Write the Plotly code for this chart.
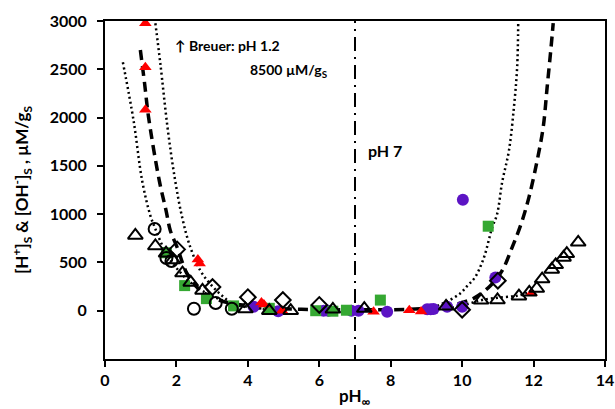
import plotly.graph_objects as go

# ---- measured surface concentrations vs. pH ----
tri_open_x = [0.85, 1.41, 1.71, 1.90, 2.17, 2.40, 2.73, 3.93, 4.60, 5.20, 6.38, 7.26,
              9.55, 10.53, 10.99, 11.59, 11.88, 12.09, 12.24, 12.51, 12.62, 12.84, 12.93, 13.25]
tri_open_y = [780, 670, 595, 525, 390, 293, 210, 17, 0, 0, 15, 22,
              45, 108, 111, 150, 190, 230, 328, 427, 475, 552, 590, 708]

circ_open_x = [1.39, 1.72, 1.86, 2.49, 3.10, 3.55]
circ_open_y = [847, 545, 515, 20, 80, 20]

diam_open_x = [2.02, 3.01, 4.00, 4.98, 6.00, 10.00, 11.00]
diam_open_y = [635, 245, 140, 111, 60, 10, 311]

red_tri_x = [1.13, 1.13, 1.13, 2.60, 2.65, 4.38, 4.45, 4.96, 7.52, 8.52, 8.85, 11.94]
red_tri_y = [2977, 2521, 2080, 530, 490, 85, 65, 0, -10, 5, -8, 180]

green_sq_x = [1.72, 2.23, 2.84, 3.60, 4.60, 5.90, 6.38, 6.76, 7.71, 10.73]
green_sq_y = [600, 260, 125, 50, 25, 0, -5, 5, 110, 875]

purple_x = [4.16, 4.85, 6.12, 6.25, 6.90, 7.10, 7.90, 9.02, 9.12, 9.20, 9.58, 10.00, 10.02, 10.93]
purple_y = [40, -5, 0, 0, 0, 0, -10, 15, 15, 18, 40, 40, 1150, 345]

# ---- model curves ----
dash_x = [0.99, 1.11, 1.22, 1.52, 1.71, 1.83, 2.02, 2.30, 2.58, 2.67, 3.23, 3.98,
          4.6, 5.5, 7.0, 8.5, 9.5, 10.0, 10.37, 10.79, 11.12, 11.40, 11.65, 11.87,
          12.10, 12.27, 12.38, 12.49, 12.55]
dash_y = [2700, 2349, 2003, 1347, 1036, 829, 656, 380, 241, 207, 104, 52,
          28, 15, 10, 15, 40, 85, 138, 259, 415, 656, 898, 1174,
          1554, 1900, 2314, 2729, 2977]

dot_in_left_x = [1.41, 1.55, 1.75, 1.95, 2.16, 2.39, 2.67, 2.95, 3.28, 3.60, 4.00, 4.50]
dot_in_left_y = [2977, 2557, 1900, 1381, 967, 656, 415, 277, 155, 69, 35, 15]

dot_out_left_x = [0.50, 0.80, 1.04, 1.27, 1.41, 1.60, 1.80, 2.10, 2.40, 2.80, 3.20, 3.60, 4.00, 4.50]
dot_out_left_y = [2573, 1969, 1347, 985, 847, 680, 540, 400, 290, 190, 120, 70, 40, 20]

dot_in_right_x = [9.30, 9.60, 9.95, 10.15, 10.35, 10.60, 10.84, 10.98, 11.12, 11.31, 11.45, 11.54, 11.57]
dot_in_right_y = [50, 100, 180, 260, 340, 540, 860, 1002, 1330, 1658, 2107, 2521, 2977]

dot_out_right_x = [9.30, 9.60, 9.90, 10.30, 10.60, 11.00, 11.40, 11.60, 11.90]
dot_out_right_y = [15, 25, 45, 85, 115, 135, 148, 160, 195]

neutral_x = [7, 7]
neutral_y = [-500, 3000]

x_ticks = [0, 2, 4, 6, 8, 10, 12, 14]
y_ticks = [0, 500, 1000, 1500, 2000, 2500, 3000]

PURPLE = "#5c14c4"
GREEN = "#35a832"
RED = "#ff0000"
INK = "black"

fig = go.Figure()

# reference line at neutral pH
fig.add_trace(go.Scatter(x=neutral_x, y=neutral_y, mode="lines",
                         line=dict(color=INK, width=2, dash="14px,6px,2px,6px"),
                         hoverinfo="skip"))

# model curves
for cx, cy in [(dot_out_left_x, dot_out_left_y), (dot_in_left_x, dot_in_left_y),
               (dot_in_right_x, dot_in_right_y), (dot_out_right_x, dot_out_right_y)]:
    fig.add_trace(go.Scatter(x=cx, y=cy, mode="lines", line_shape="spline",
                             line=dict(color=INK, width=2.5, dash="2px,3px")))
fig.add_trace(go.Scatter(x=dash_x, y=dash_y, mode="lines", line_shape="spline",
                         line=dict(color=INK, width=3.5, dash="10px,6px")))

# filled markers
fig.add_trace(go.Scatter(x=purple_x, y=purple_y, mode="markers",
                         marker=dict(symbol="circle", size=12, color=PURPLE)))
fig.add_trace(go.Scatter(x=green_sq_x, y=green_sq_y, mode="markers",
                         marker=dict(symbol="square", size=11, color=GREEN)))
fig.add_trace(go.Scatter(x=red_tri_x, y=red_tri_y, mode="markers",
                         marker=dict(symbol="triangle-up", size=11, color=RED)))

# open markers
fig.add_trace(go.Scatter(x=tri_open_x, y=tri_open_y, mode="markers",
                         marker=dict(symbol="triangle-up-open", size=13, color=INK,
                                     line=dict(width=2))))
fig.add_trace(go.Scatter(x=circ_open_x, y=circ_open_y, mode="markers",
                         marker=dict(symbol="circle-open", size=12, color=INK,
                                     line=dict(width=2))))
fig.add_trace(go.Scatter(x=diam_open_x, y=diam_open_y, mode="markers",
                         marker=dict(symbol="diamond-open", size=12, color=INK,
                                     line=dict(width=2))))

FONT = "Lato"
axis_common = dict(ticks="outside", ticklen=6, tickwidth=2, tickcolor=INK,
                   showline=True, linecolor=INK, linewidth=2, mirror=True,
                   showgrid=False, zeroline=False, automargin=False,
                   tickfont=dict(family=FONT, size=16, color=INK, weight="bold"))

fig.update_layout(
    template="none",
    width=615, height=409,
    margin=dict(l=105, r=10, t=21, b=50),
    paper_bgcolor="white", plot_bgcolor="white",
    showlegend=False,
    font=dict(family=FONT, color=INK),
    xaxis=dict(range=[0, 14], tickvals=x_ticks,
               ticktext=[f"<b>{v}</b>" for v in x_ticks], **axis_common),
    yaxis=dict(range=[-500, 3000], tickvals=y_ticks, ticklabelstandoff=7,
               ticktext=[f"<b>{v}</b>" for v in y_ticks], **axis_common),
    annotations=[
        # axis titles
        dict(x=0.5, y=-0.113, xref="paper", yref="paper", xanchor="center", yanchor="middle",
             text="<b>pH<sub>∞</sub></b>", showarrow=False,
             font=dict(family=FONT, size=17, color=INK)),
        dict(x=-0.166, y=0.5, xref="paper", yref="paper", xanchor="center", yanchor="middle",
             textangle=-90,
             text="<b>[H<sup>+</sup>]<sub>S</sub> & [OH<sup>-</sup>]<sub>S</sub> , µM/g<sub>S</sub></b>",
             showarrow=False, font=dict(family=FONT, size=17, color=INK)),
        # notes inside the plot
        dict(x=1.91, y=2746, xref="x", yref="y", xanchor="left", yanchor="middle",
             text="<b>↑ Breuer: pH 1.2</b>", showarrow=False,
             font=dict(family=FONT, size=14, color=INK)),
        dict(x=3.99, y=2487, xref="x", yref="y", xanchor="left", yanchor="middle",
             text="<b>8500 µM/g<sub>S</sub></b>", showarrow=False,
             font=dict(family=FONT, size=14, color=INK)),
        dict(x=7.32, y=1658, xref="x", yref="y", xanchor="left", yanchor="middle",
             text="<b>pH 7</b>", showarrow=False,
             font=dict(family=FONT, size=16, color=INK)),
    ],
)

fig.write_html("out.html")
